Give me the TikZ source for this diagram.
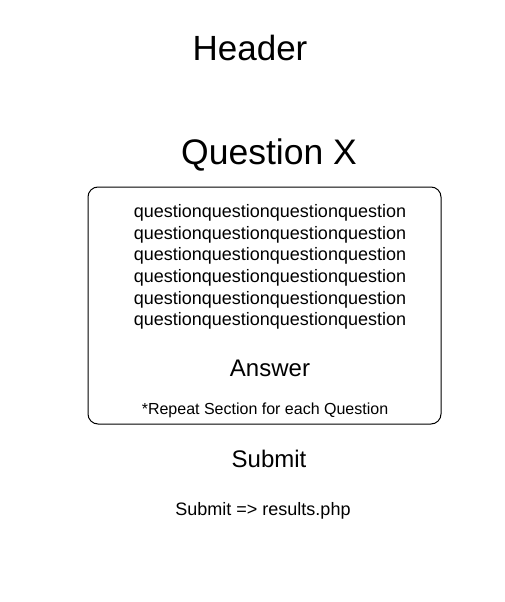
\documentclass[tikz,border=0pt]{standalone}
\usepackage{fontspec}
\setmainfont{Liberation Sans}
\usetikzlibrary{positioning}

\tikzset{
  title/.style={font=\fontsize{35}{42}\selectfont},
  mid/.style={font=\fontsize{24}{28}\selectfont},
  body/.style={font=\fontsize{18}{21.6}\selectfont, align=center},
  small/.style={font=\fontsize{16}{19}\selectfont},
  section/.style={draw, line width=1pt, rounded corners=10pt, minimum width=353pt, minimum height=237pt}
}

\begin{document}
\begin{tikzpicture}[x=1pt, y=-1pt, every node/.style={inner sep=0pt}]
   \useasboundingbox (0,0) rectangle (504,602);

   % Page titles
   \node[title] (header) at (250,48) {Header};
   \node[title, font=\fontsize{35.5}{42}\selectfont] (qtitle) at (269,155) {Question X};

   % Repeated section
   \node[section] (sec) at (264.5,305.5) {};
   \node[body] (qtext) at (270,267) {questionquestionquestionquestion\\questionquestionquestionquestion\\questionquestionquestionquestion\\questionquestionquestionquestion\\questionquestionquestionquestion\\questionquestionquestionquestion};
   \node[mid] (answer) at (270,368) {Answer};
   \node[small] (note) at (265,410) {*Repeat Section for each Question};

   % Submit
   \node[mid] (submit) at (269,459) {Submit};
   \node[body] (target) at (263,511) {Submit => results.php};
\end{tikzpicture}
\end{document}
